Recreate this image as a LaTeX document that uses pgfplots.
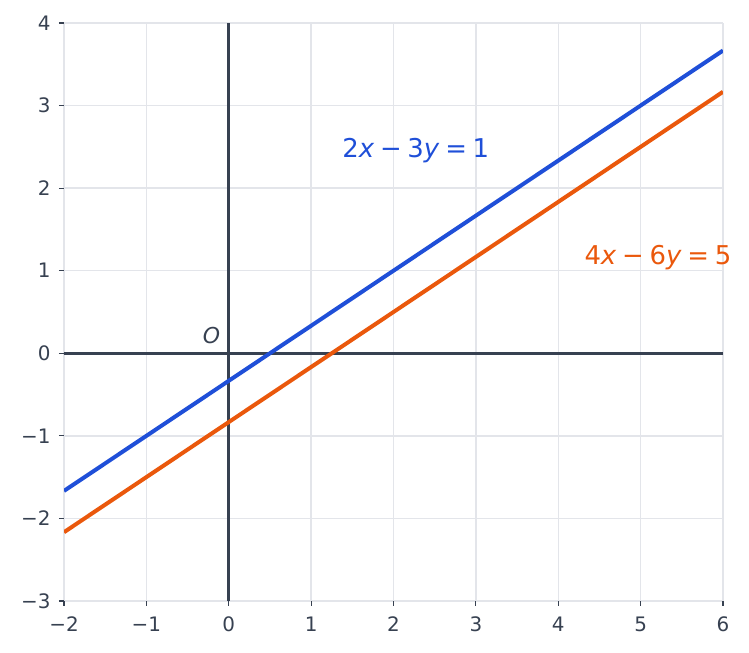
\documentclass[border=0pt]{standalone}
\usepackage{fontspec}
\setmainfont{DejaVu Sans}
\usepackage{pgfplots}
\pgfplotsset{compat=1.18}
\definecolor{lineblue}{HTML}{1F4FD8}
\definecolor{lineorange}{HTML}{EA580C}
\definecolor{axisdark}{HTML}{374151}
\definecolor{gridgray}{HTML}{E3E5EA}
\newcommand{\op}[1]{\hspace{0.22em}#1\hspace{0.22em}}

\begin{document}
\begin{tikzpicture}
\begin{axis}[
  scale only axis,
  width=659bp, height=578bp,
  xmin=-2, xmax=6, ymin=-3, ymax=4,
  xtick={-2,...,6}, ytick={-3,...,4},
  xticklabels={−2,−1,0,1,2,3,4,5,6},
  yticklabels={−3,−2,−1,0,1,2,3,4},
  tick pos=left, tick align=outside,
  major tick length=5bp,
  tick style={axisdark, line width=1.2bp},
  axis line style={draw=none},
  grid=major,
  grid style={gridgray, line width=1.3bp},
  ticklabel style={font=\fontsize{20}{24}\selectfont, text=axisdark},
  xticklabel style={yshift=-7bp},
  yticklabel style={xshift=-5bp},
  clip mode=individual,
]
% coordinate axes
\addplot[axisdark, line width=3bp] coordinates {(-2,0) (6,0)};
\addplot[axisdark, line width=3bp] coordinates {(0,-3) (0,4)};

% 2x - 3y = 1
\addplot[lineblue, line width=4bp] coordinates {(-2,-1.6667) (6,3.6667)};
% 4x - 6y = 5
\addplot[lineorange, line width=4bp] coordinates {(-2,-2.1667) (6,3.1667)};

\node[text=lineblue, font=\fontsize{26}{30}\selectfont] at (axis cs:2.27,2.46)
  {2\textit{x}\op{−}3\textit{y}\op{=}1};
\node[text=lineorange, font=\fontsize{26}{30}\selectfont] at (axis cs:5.21,1.16)
  {4\textit{x}\op{−}6\textit{y}\op{=}5};
\node[text=axisdark, font=\fontsize{22}{26}\selectfont] at (axis cs:-0.21,0.21)
  {\textit{O}};
\end{axis}
\pgfresetboundingbox
\path (-64bp,-52bp) rectangle (685bp,601bp);
\end{tikzpicture}
\end{document}
